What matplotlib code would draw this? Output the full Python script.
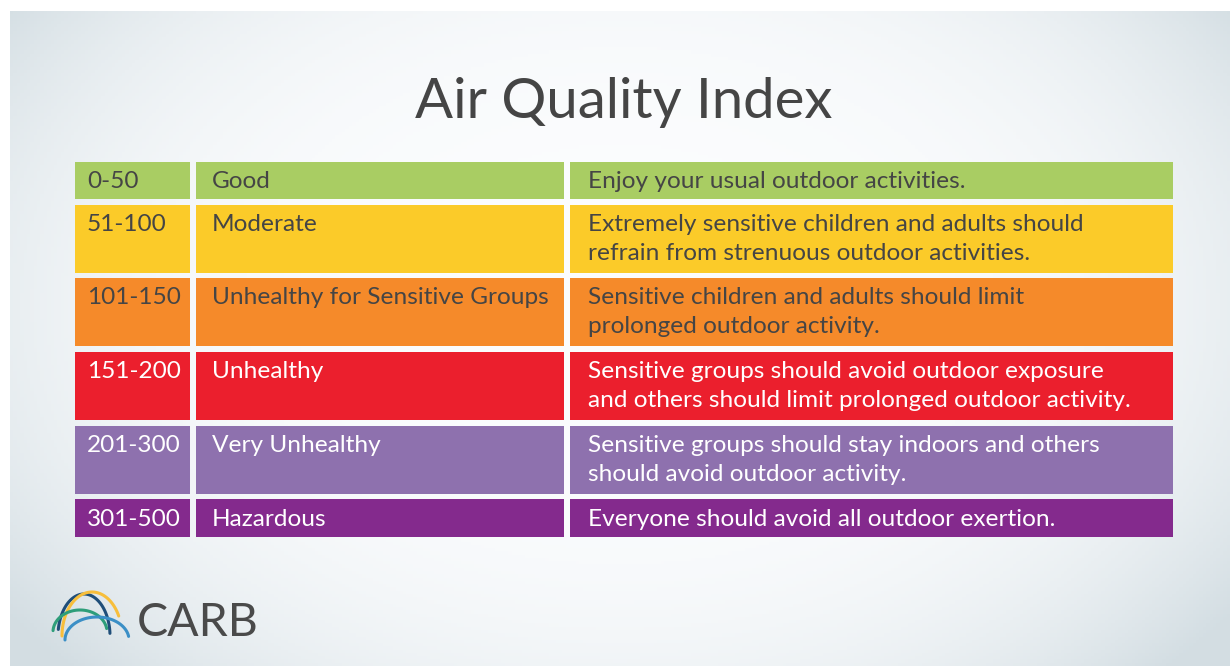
import numpy as np
import matplotlib.pyplot as plt
from matplotlib.patches import Rectangle

ranges = ["0-50", "51-100", "101-150", "151-200", "201-300", "301-500"]
levels = ["Good", "Moderate", "Unhealthy for Sensitive Groups", "Unhealthy",
          "Very Unhealthy", "Hazardous"]
advice = [
    "Enjoy your usual outdoor activities.",
    "Extremely sensitive children and adults should\nrefrain from strenuous outdoor activities.",
    "Sensitive children and adults should limit\nprolonged outdoor activity.",
    "Sensitive groups should avoid outdoor exposure\nand others should limit prolonged outdoor activity.",
    "Sensitive groups should stay indoors and others\nshould avoid outdoor activity.",
    "Everyone should avoid all outdoor exertion.",
]
row_colors = ["#A9CD63", "#FBCB29", "#F58A2A", "#EB1F2D", "#8E71AE", "#842A8D"]
text_colors = ["#454545", "#454545", "#454545", "white", "white", "white"]

plt.rcParams['font.family'] = ['Lato', 'DejaVu Sans']

fig = plt.figure(figsize=(12.3, 6.66), dpi=100)
ax = fig.add_axes([0, 0, 1, 1])
ax.set_xlim(0, 1230)
ax.set_ylim(666, 0)
ax.axis('off')

# soft background: white centre, grey-blue toward the edges
yy, xx = np.mgrid[0:1:200j, 0:1:360j]
v = np.clip(((xx - 0.5) / 0.62) ** 2 + ((yy - 0.45) / 0.8) ** 2, 0, 1) ** 1.8
edge = np.array([0.83, 0.87, 0.89])
bg = (1 - v[..., None]) * np.array([0.985, 0.99, 0.995]) + v[..., None] * edge
ax.imshow(bg, extent=(10, 1230, 666, 11), aspect='auto', zorder=0)

ax.text(624, 103, "Air Quality Index", ha='center', va='center',
        fontsize=40.5, color="#454545")

# table
cols = [(75, 190), (196, 564), (570, 1173)]
pads = [12, 16, 18]
y = 162
for i in range(len(ranges)):
    nlines = advice[i].count("\n") + 1
    h = 37 if nlines == 1 else 68
    for (x0, x1) in cols:
        ax.add_patch(Rectangle((x0, y), x1 - x0, h, color=row_colors[i], lw=0, zorder=2))
    cells = [ranges[i], levels[i], advice[i]]
    for (x0, x1), pad, txt in zip(cols, pads, cells):
        for k, line in enumerate(txt.split("\n")):
            ax.text(x0 + pad, y + 26 + 29 * k, line, ha='left', va='baseline',
                    fontsize=17.6, color=text_colors[i], zorder=3)
    y += h + 5.7

# CARB logo
arcs = [
    (84, 636, 26, 42, "#1F4E79", 0.05, 0.98),
    (92, 636, 30, 44, "#F7BE3B", 0.0, 0.85),
    (80, 632, 27, 22, "#2E9E7A", 0.02, 0.95),
    (97, 640, 32, 23, "#3B8FC6", 0.0, 0.95),
]
for cx, cy, rx, ry, c, a0, a1 in arcs:
    tt = np.linspace(np.pi * a0, np.pi * a1, 100)
    ax.plot(cx - rx * np.cos(tt), cy - ry * np.sin(tt), color=c, lw=2.2, zorder=3,
            solid_capstyle='round')
ax.text(137, 636, "CARB", ha='left', va='baseline', fontsize=33.5, color="#4A4A4A")

plt.savefig("out.png", dpi=100)
